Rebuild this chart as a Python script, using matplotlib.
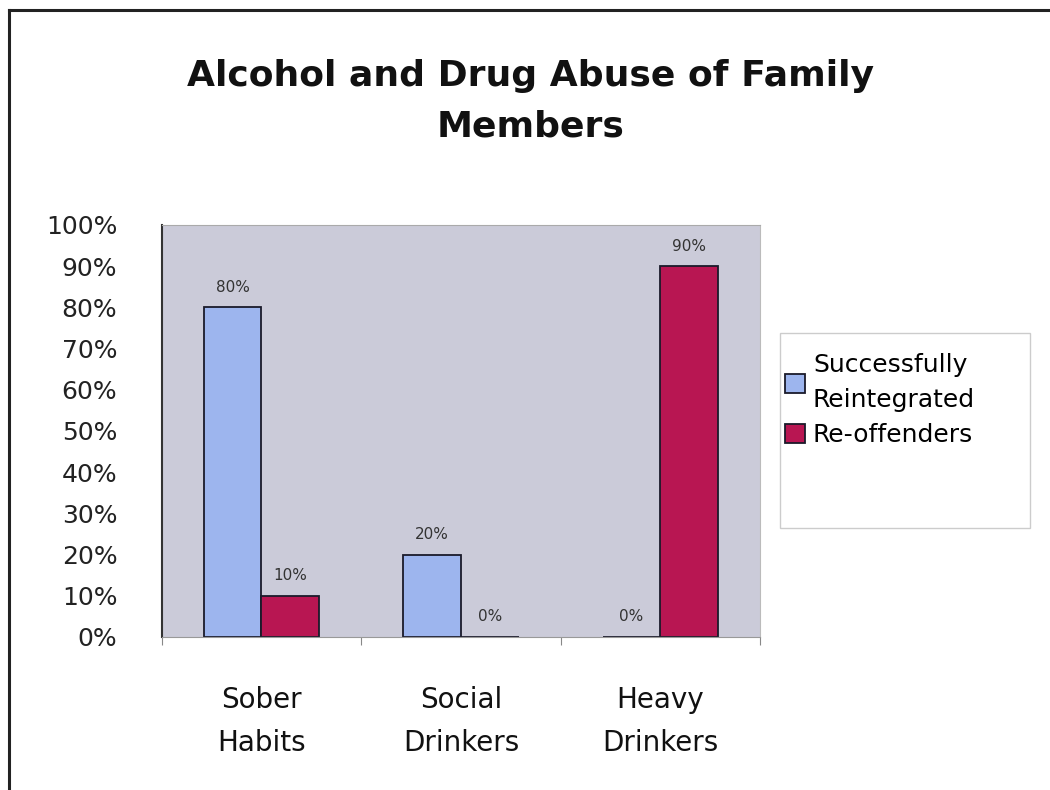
import numpy as np
import matplotlib.pyplot as plt
from matplotlib.lines import Line2D
from matplotlib.patches import Rectangle

# data
categories = ['Sober\nHabits', 'Social\nDrinkers', 'Heavy\nDrinkers']
reintegrated = [0.80, 0.20, 0.00]
reoffenders = [0.10, 0.00, 0.90]
series_names = ['Successfully\nReintegrated', 'Re-offenders']
ytick_labels = ['0%', '10%', '20%', '30%', '40%', '50%', '60%', '70%', '80%', '90%', '100%']

blue = '#9db5ee'
red = '#b81652'
panel = '#cbcbd9'

fig = plt.figure(figsize=(10.5, 7.9), dpi=100)
ax = fig.add_axes([0.154, 0.1937, 0.570, 0.5215])
ax.set_facecolor(panel)

x = np.arange(len(categories)) + 0.5
w = 0.29
b1 = ax.bar(x - w / 2, reintegrated, w, color=blue, edgecolor='#1a1a2a', linewidth=1.3,
            label=series_names[0])
b2 = ax.bar(x + w / 2, reoffenders, w, color=red, edgecolor='#1a1a2a', linewidth=1.3,
            label=series_names[1])

# value labels above each bar
for bars, vals in ((b1, reintegrated), (b2, reoffenders)):
    for rect, v in zip(bars, vals):
        ax.annotate(f'{int(round(v * 100))}%',
                    (rect.get_x() + rect.get_width() / 2, v),
                    xytext=(0, 9), textcoords='offset points',
                    ha='center', va='bottom', fontsize=11, color='#333333')

ax.set_xlim(0, 3)
ax.set_ylim(0, 1)
ax.set_yticks(np.linspace(0, 1, 11))
ax.set_yticklabels(ytick_labels, fontsize=18, color='#222222')
ax.tick_params(axis='y', length=0, pad=32)

# category boundaries carry the ticks, labels sit in the middle
ax.set_xticks([0, 1, 2, 3])
ax.set_xticklabels([])
ax.tick_params(axis='x', which='major', direction='out', length=6, color='#888888')
ax.set_xticks(x, minor=True)
ax.set_xticklabels(categories, minor=True, fontsize=20, color='#111111', linespacing=1.7)
ax.tick_params(axis='x', which='minor', length=0, pad=35)

ax.spines['left'].set_color('#333333')
ax.spines['left'].set_linewidth(1.5)
ax.spines['bottom'].set_color('#999999')
ax.spines['top'].set_color('#aaaaaa')
ax.spines['right'].set_color('#bbbbbb')

fig.suptitle('Alcohol and Drug Abuse of Family\nMembers', x=0.505, y=0.925,
             fontsize=26, fontweight='bold', linespacing=1.6, color='#111111')

# legend box drawn separately so it can be taller than its entries
fig.add_artist(Rectangle((0.743, 0.332), 0.238, 0.247, transform=fig.transFigure,
                         facecolor='white', edgecolor='#cccccc', linewidth=1.0))
leg = fig.legend(handles=[b1, b2], labels=series_names, loc='upper left',
                 bbox_to_anchor=(0.748, 0.553), fontsize=18, frameon=False,
                 handlelength=0.8, handleheight=0.8, handletextpad=0.3,
                 borderpad=0, labelspacing=0.45, borderaxespad=0)
leg.get_texts()[0].set_linespacing(1.55)

# frame along the left and top edges of the image
fig.add_artist(Line2D([0.0086, 0.0086], [0, 0.987], color='#222222', linewidth=2.2))
fig.add_artist(Line2D([0.0086, 1.0], [0.987, 0.987], color='#222222', linewidth=2.2))

fig.savefig('out.png', dpi=100, facecolor='white')
